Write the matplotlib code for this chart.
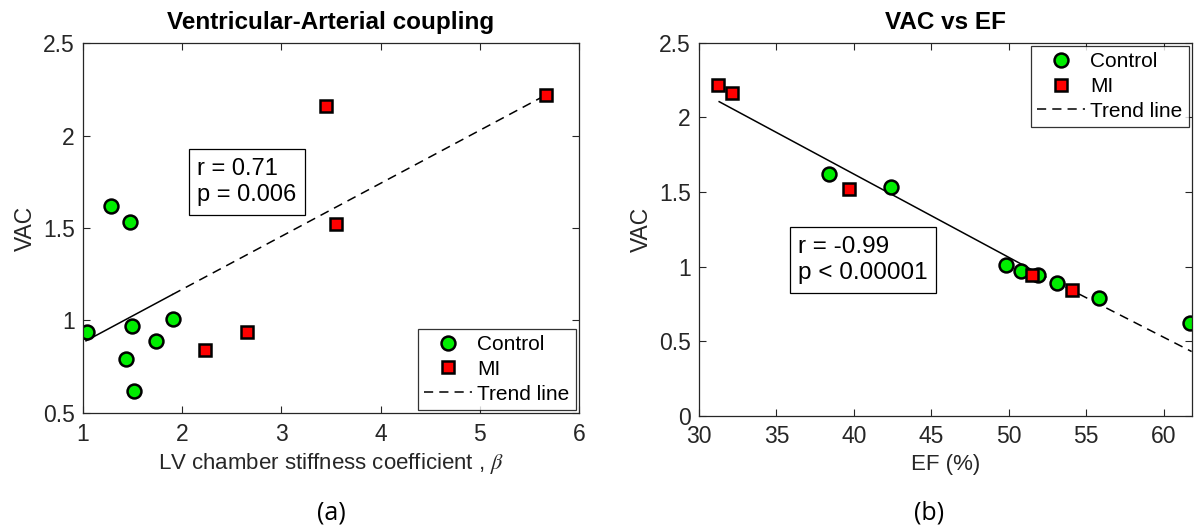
import numpy as np
import matplotlib
matplotlib.use('Agg')
import matplotlib.pyplot as plt

plt.rcParams['font.family'] = ['Liberation Sans', 'DejaVu Sans']
plt.rcParams['mathtext.fontset'] = 'stix'

# (a) VAC vs LV chamber stiffness coefficient
beta_ctrl = [1.04, 1.28, 1.47, 1.49, 1.43, 1.51, 1.74, 1.91]
vac_ctrl_a = [0.94, 1.62, 1.53, 0.97, 0.79, 0.62, 0.89, 1.01]
beta_mi = [2.23, 2.65, 3.45, 3.55, 5.67]
vac_mi_a = [0.84, 0.94, 2.16, 1.52, 2.22]
trend_a_x = [1.03, 1.9, 5.67]
trend_a_y = [0.89, 1.14, 2.22]

# (b) VAC vs EF
ef_ctrl = [38.4, 42.4, 49.8, 50.8, 51.9, 53.1, 55.8, 61.7]
vac_ctrl_b = [1.62, 1.53, 1.01, 0.97, 0.94, 0.89, 0.79, 0.62]
ef_mi = [31.2, 32.1, 39.7, 51.5, 54.1]
vac_mi_b = [2.22, 2.16, 1.52, 0.94, 0.84]
trend_b_x = [31.3, 51.9, 61.8]
trend_b_y = [2.105, 0.955, 0.43]

fig = plt.figure(figsize=(11.98, 5.29), dpi=100)
ax1 = fig.add_axes([0.0693, 0.2193, 0.4140, 0.6994])
ax2 = fig.add_axes([0.5835, 0.2142, 0.4112, 0.7050])

ctrl_style = dict(marker='o', ms=10, mfc='#00ee00', mec='black', mew=1.8, ls='none')
mi_style = dict(marker='s', ms=9, mfc='#ff0000', mec='black', mew=1.8, ls='none')
dash = (0, (6, 4))


def style_axes(ax):
    ax.tick_params(direction='in', top=True, right=True, labelsize=16.5, length=5,
                   width=0.8, colors='#262626')
    ax.tick_params(axis='x', pad=7)
    ax.tick_params(axis='y', pad=6)
    for s in ax.spines.values():
        s.set_color('#262626')
        s.set_linewidth(0.9)


def add_legend(ax, loc):
    leg = ax.legend(loc=loc, fontsize=15, frameon=True, fancybox=False,
                    edgecolor='black', borderaxespad=0.15, handlelength=2.3,
                    handletextpad=0.25, labelspacing=0.28, borderpad=0.3)
    leg.get_frame().set_linewidth(0.9)


# panel a
ax1.plot(trend_a_x[:2], trend_a_y[:2], color='black', lw=1.1, ls='-')
ax1.plot(trend_a_x[1:], trend_a_y[1:], color='black', lw=1.1, ls=dash)
ax1.plot(beta_ctrl, vac_ctrl_a, label='Control', **ctrl_style)
ax1.plot(beta_mi, vac_mi_a, label='MI', **mi_style)
ax1.plot([], [], color='black', lw=1.1, ls=dash, label='Trend line')
ax1.set_xlim(1, 6)
ax1.set_ylim(0.5, 2.5)
ax1.set_xticks([1, 2, 3, 4, 5, 6])
ax1.set_yticks([0.5, 1, 1.5, 2, 2.5])
ax1.set_yticklabels(['0.5', '1', '1.5', '2', '2.5'])
style_axes(ax1)
ax1.set_title('Ventricular-Arterial coupling', fontsize=17.5, fontweight='bold', pad=10)
ax1.set_xlabel(r'LV chamber stiffness coefficient , $\it{\beta}$', fontsize=16,
               color='#262626', labelpad=4)
ax1.set_ylabel('VAC', fontsize=16.5, color='#262626', labelpad=4)
ax1.text(2.15, 1.645, 'r = 0.71\np = 0.006', fontsize=17, linespacing=1.25,
         bbox=dict(boxstyle='square,pad=0.36', fc='white', ec='black', lw=0.9))
add_legend(ax1, 'lower right')

# panel b
ax2.plot(trend_b_x[:2], trend_b_y[:2], color='black', lw=1.1, ls='-')
ax2.plot(trend_b_x[1:], trend_b_y[1:], color='black', lw=1.1, ls=dash)
ax2.plot(ef_ctrl, vac_ctrl_b, label='Control', **ctrl_style)
ax2.plot(ef_mi, vac_mi_b, label='MI', **mi_style)
ax2.plot([], [], color='black', lw=1.1, ls=dash, label='Trend line')
ax2.set_xlim(30, 61.8)
ax2.set_ylim(0, 2.5)
ax2.set_xticks([30, 35, 40, 45, 50, 55, 60])
ax2.set_yticks([0, 0.5, 1, 1.5, 2, 2.5])
ax2.set_yticklabels(['0', '0.5', '1', '1.5', '2', '2.5'])
style_axes(ax2)
ax2.set_title('VAC vs EF', fontsize=17.5, fontweight='bold', pad=10)
ax2.set_xlabel('EF (%)', fontsize=16, color='#262626', labelpad=4)
ax2.set_ylabel('VAC', fontsize=16.5, color='#262626', labelpad=4)
ax2.text(36.4, 0.915, 'r = -0.99\np < 0.00001', fontsize=17.5, linespacing=1.25,
         bbox=dict(boxstyle='square,pad=0.35', fc='white', ec='black', lw=0.9))
add_legend(ax2, 'upper right')

fig.text(0.2765, 0.03, '(a)', fontsize=18, ha='center', va='center',
         family=['Open Sans', 'DejaVu Sans'])
fig.text(0.7755, 0.03, '(b)', fontsize=18, ha='center', va='center',
         family=['Open Sans', 'DejaVu Sans'])

fig.savefig('out.png', dpi=100)
